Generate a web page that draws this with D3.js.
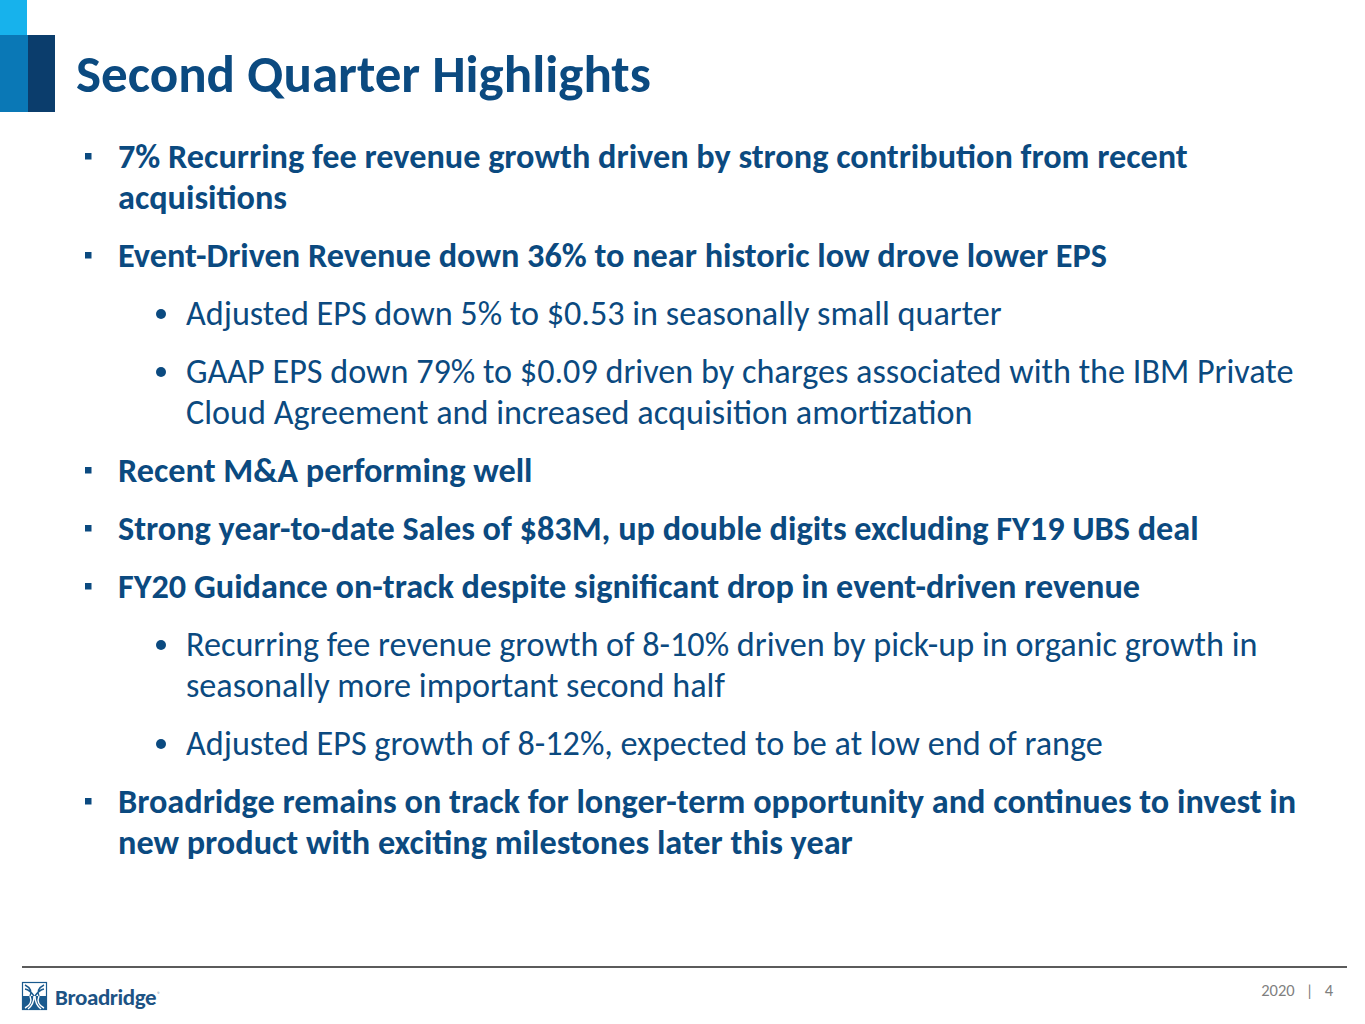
<!DOCTYPE html>
<html><head><meta charset="utf-8">
<script src="https://cdn.jsdelivr.net/npm/d3@7/dist/d3.min.js"></script>
<style>html,body{margin:0;padding:0;background:#fff;overflow:hidden}</style>
</head><body>
<svg id="slide" width="1365" height="1024"></svg>
<script>
// ---- content ----
const titleText = "Second Quarter Highlights";
const itemLevels = [1, 1, 2, 2, 1, 1, 1, 2, 2, 1];
const itemLines = [
  ["7% Recurring fee revenue growth driven by strong contribution from recent", "acquisitions"],
  ["Event-Driven Revenue down 36% to near historic low drove lower EPS"],
  ["Adjusted EPS down 5% to $0.53 in seasonally small quarter"],
  ["GAAP EPS down 79% to $0.09 driven by charges associated with the IBM Private", "Cloud Agreement and increased acquisition amortization"],
  ["Recent M&A performing well"],
  ["Strong year-to-date Sales of $83M, up double digits excluding FY19 UBS deal"],
  ["FY20 Guidance on-track despite significant drop in event-driven revenue"],
  ["Recurring fee revenue growth of 8-10% driven by pick-up in organic growth in", "seasonally more important second half"],
  ["Adjusted EPS growth of 8-12%, expected to be at low end of range"],
  ["Broadridge remains on track for longer-term opportunity and continues to invest in", "new product with exciting milestones later this year"]
];
const footerYear = "2020";
const pageNumber = "4";
const brandName = "Broadridge";

// ---- layout ----
const W = 1365, H = 1024;
const FONT = "Carlito, Lato, 'Open Sans', sans-serif";
const BLUE = "#0b4a80";
const svg = d3.select("#slide");

function fitSize(text, weight, target) {
  const t = svg.append("text").attr("font-family", FONT).attr("font-weight", weight)
    .attr("font-size", 100).text(text);
  const w = t.node().getComputedTextLength();
  t.remove();
  return 100 * target / w;
}
const titleSize = fitSize(titleText, 700, 575);
const boldSize = fitSize(itemLines[0][0], 700, 1070);
const regSize = fitSize(itemLines[3][0], 400, 1108);

// logo blocks (top-left)
svg.append("rect").attr("x", 0).attr("y", 0).attr("width", 27).attr("height", 35).attr("fill", "#17b2ec");
svg.append("rect").attr("x", 0).attr("y", 35).attr("width", 28).attr("height", 77).attr("fill", "#0a78b6");
svg.append("rect").attr("x", 28).attr("y", 35).attr("width", 27).attr("height", 77).attr("fill", "#0b3d6c");

// title
svg.append("text").attr("x", 76).attr("y", 92)
  .attr("font-family", FONT).attr("font-weight", 700).attr("font-size", titleSize)
  .attr("fill", BLUE).text(titleText);

// build line rows: each row gets a layout unit position
const rows = [];
let unit = 0;
itemLines.forEach((lines, i) => {
  if (i > 0) unit += 58;
  lines.forEach((ln, j) => {
    if (j > 0) unit += 41;
    rows.push({ text: ln, level: itemLevels[i], first: j === 0, u: unit });
  });
});
const y = d3.scaleLinear().domain([0, 686]).range([168, 854]);
const xText = d3.scaleOrdinal().domain([1, 2]).range([118, 186]);

const g = svg.append("g");
g.selectAll("text.line").data(rows).join("text")
  .attr("class", "line")
  .attr("x", d => xText(d.level))
  .attr("y", d => y(d.u))
  .attr("font-family", FONT)
  .attr("font-weight", d => d.level === 1 ? 700 : 400)
  .attr("font-size", d => d.level === 1 ? boldSize : regSize)
  .attr("fill", BLUE)
  .text(d => d.text);

// bullets
g.selectAll("rect.sq").data(rows.filter(d => d.first && d.level === 1)).join("rect")
  .attr("class", "sq")
  .attr("x", 85).attr("y", d => y(d.u) - 15).attr("width", 6.5).attr("height", 6.5)
  .attr("fill", BLUE);
g.selectAll("circle.dot").data(rows.filter(d => d.first && d.level === 2)).join("circle")
  .attr("class", "dot")
  .attr("cx", 161).attr("cy", d => y(d.u) - 11).attr("r", 5)
  .attr("fill", BLUE);

// footer rule
svg.append("line").attr("x1", 22).attr("x2", 1347).attr("y1", 967).attr("y2", 967)
  .attr("stroke", "#5b5b5b").attr("stroke-width", 1.8);

// footer page info
svg.append("text").attr("x", 1333).attr("y", 996).attr("text-anchor", "end")
  .attr("font-family", FONT).attr("font-size", 16.5).attr("fill", "#7f7f7f")
  .attr("xml:space", "preserve")
  .text(footerYear + "   |   " + pageNumber);

// Broadridge logo
const lg = svg.append("g").attr("transform", "translate(22,982)");
lg.append("rect").attr("x", 0.5).attr("y", 0.5).attr("width", 24).attr("height", 27)
  .attr("fill", "#fff").attr("stroke", "#1a5a8e").attr("stroke-width", 1.2);
lg.append("rect").attr("x", 0).attr("y", 14).attr("width", 25).attr("height", 14).attr("fill", "#1a5a8e");
lg.append("path").attr("d", "M3,3 C9,6 10,10 8,14 M22,3 C16,6 15,10 17,14 M3,7 C8,8 10,11 12,14 M22,7 C17,8 15,11 13,14")
  .attr("fill", "none").attr("stroke", "#1a5a8e").attr("stroke-width", 1.4);
lg.append("path").attr("d", "M8,14 C10,19 9,23 3,26 M17,14 C15,19 16,23 22,26 M12,14 C12,20 10,24 6,27 M13,14 C13,20 15,24 19,27")
  .attr("fill", "none").attr("stroke", "#fff").attr("stroke-width", 1.4);
const bt = svg.append("text").attr("x", 55).attr("y", 1005)
  .attr("font-family", FONT).attr("font-weight", 700).attr("font-size", 23)
  .attr("fill", "#1d5384").attr("letter-spacing", -0.4).text(brandName);
const bw = bt.node().getComputedTextLength();
svg.append("text").attr("x", 55 + bw + 1).attr("y", 996)
  .attr("font-family", FONT).attr("font-size", 6).attr("fill", "#1d5384").text("®");
</script>
</body></html>
